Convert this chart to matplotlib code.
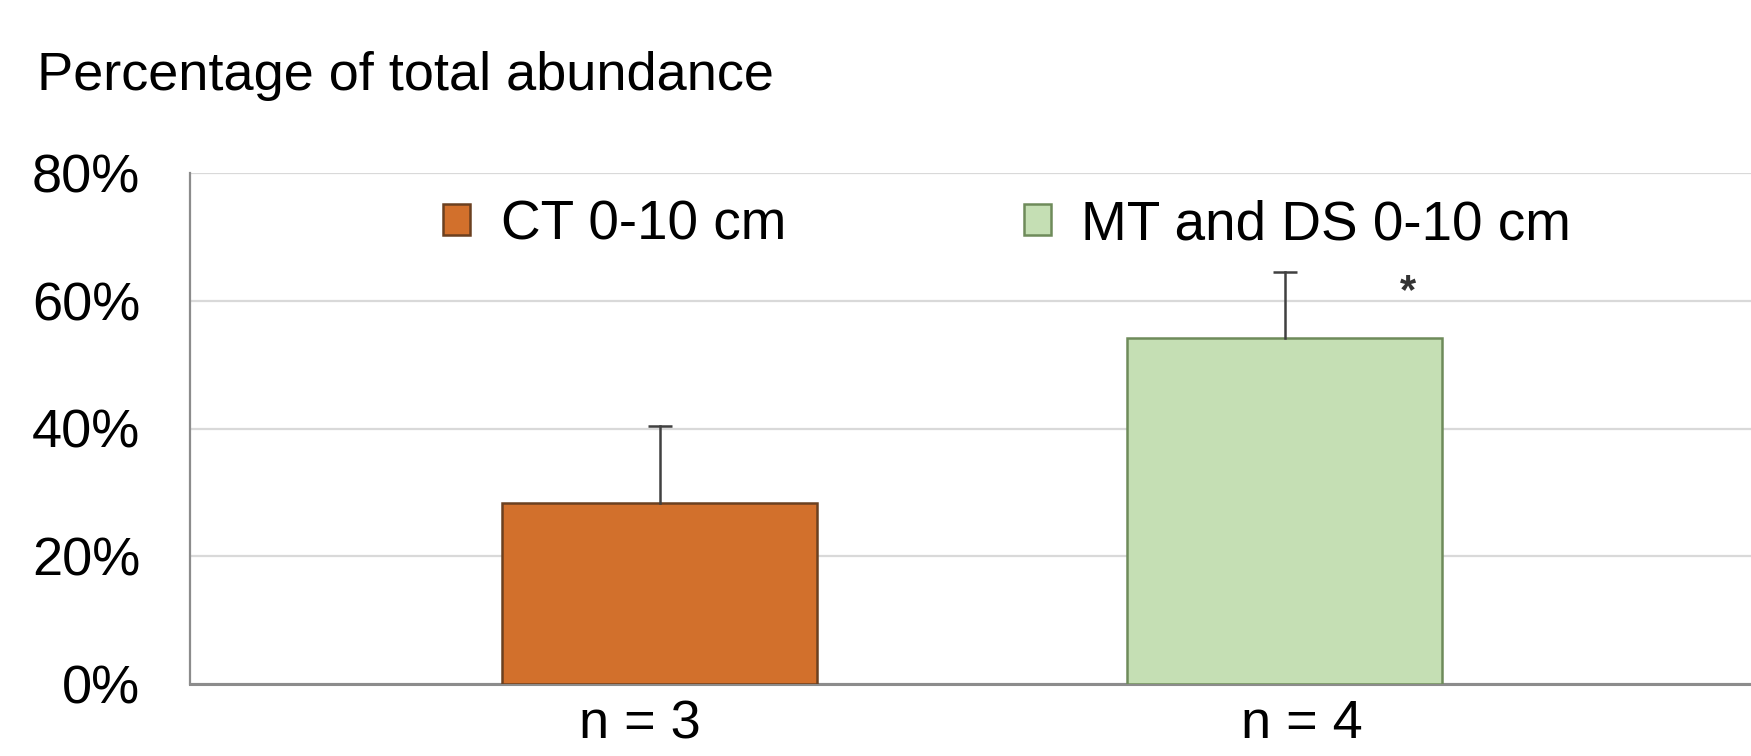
import matplotlib
matplotlib.use("Agg")
import matplotlib.pyplot as plt
import matplotlib.transforms as mtransforms
import numpy as np

plt.rcParams['font.family'] = ['Liberation Sans', 'DejaVu Sans']

# Data
series = ["CT 0-10 cm", "MT and DS 0-10 cm"]
xlabels = ["n = 3", "n = 4"]
values = [28.3, 54.1]
errors = [12.1, 10.4]
colors = ["#D2702C", "#C5DFB4"]
edgecolors = ["#6B4020", "#6E8B5A"]
yticks = [0, 20, 40, 60, 80]
ytick_labels = ["0%", "20%", "40%", "60%", "80%"]
title = "Percentage of total abundance"
sig_mark = "*"

W, H = 1751, 756
fig = plt.figure(figsize=(W / 100, H / 100), dpi=100)
ax_left = 190 / W
ax_bottom = (H - 684) / H
ax_top = (H - 173) / H
ax = fig.add_axes([ax_left, ax_bottom, 1.0 - ax_left, ax_top - ax_bottom])

x = np.arange(len(values))
handles = []
for i in range(len(values)):
    b = ax.bar(x[i], values[i], width=0.504, color=colors[i], edgecolor=edgecolors[i],
               linewidth=1.8, zorder=3, label=series[i])
    handles.append(b)
    top = values[i] + errors[i]
    ax.plot([x[i], x[i]], [values[i], top], color='#404040', linewidth=1.8, zorder=4)
    ax.plot([x[i]], [top], marker='_', markersize=17, markeredgewidth=1.8,
            color='#404040', zorder=4)

ax.set_xlim(-0.752, 1.746)
ax.set_ylim(0, 80)
ax.set_yticks(yticks)
ax.set_yticklabels(ytick_labels)
ax.set_xticks(x)
ax.set_xticklabels(xlabels)
ax.tick_params(axis='y', length=0, pad=36, labelsize=39)
ax.tick_params(axis='x', length=0, pad=11, labelsize=39)
# small horizontal offsets of the category labels as in the original
offsets_px = [-20, 17]
for lab, dx in zip(ax.get_xticklabels(), offsets_px):
    lab.set_transform(lab.get_transform() + mtransforms.ScaledTranslation(dx / 100, 0, fig.dpi_scale_trans))
ax.yaxis.grid(True, color='#d9d9d9', linewidth=1.6, zorder=0)
ax.set_axisbelow(True)
for s in ['top', 'right']:
    ax.spines[s].set_visible(False)
ax.spines['left'].set_color('#8c8c8c')
ax.spines['left'].set_linewidth(1.6)
ax.spines['bottom'].set_color('#8c8c8c')
ax.spines['bottom'].set_linewidth(2.2)

# significance mark
ax.text(1.197, 62.0, sig_mark, fontsize=30, fontweight='bold', ha='center',
        va='center_baseline', color='#333333')

fig.text(37 / W, 1 - 76 / H, title, fontsize=39, ha='left', va='center')

leg = fig.legend(handles=handles, labels=series, loc='center left',
                 bbox_to_anchor=(443 / W, 1 - 225 / H), ncol=2, frameon=False,
                 fontsize=39.5, handlelength=0.5, handleheight=0.5,
                 handletextpad=0.55, columnspacing=4.33, borderpad=0, borderaxespad=0)

fig.savefig("out.png", dpi=100)
